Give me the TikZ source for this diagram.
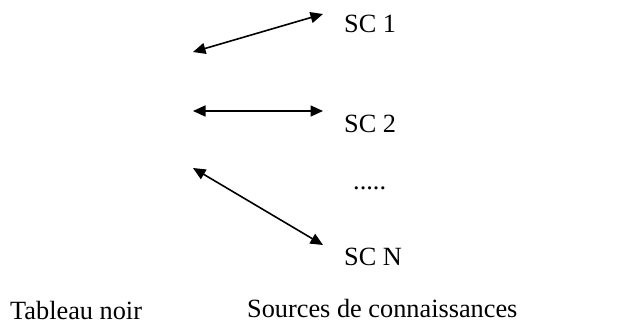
\documentclass[tikz,border=0pt]{standalone}
\usepackage{fontspec}
\setmainfont{Liberation Serif}
\usetikzlibrary{arrows.meta}
\begin{document}
\begin{tikzpicture}[x=1pt,y=-1pt,
  lbl/.style={inner sep=0pt,anchor=base west,font=\fontsize{26.3}{30}\selectfont},
  link/.style={line width=1.6pt,
    {Triangle[length=12.5pt,width=11pt]}-{Triangle[length=12.5pt,width=11pt]}}]
  \useasboundingbox (0,0) rectangle (617,324);
  % knowledge sources
  \node[lbl] (sc1) at (344,32) {SC 1};
  \node[lbl] (sc2) at (344,132) {SC 2};
  \node[lbl] (dots) at (353,189) {.....};
  \node[lbl] (scn) at (344,265) {SC N};
  % captions
  \node[lbl] (board) at (10,319) {Tableau noir};
  \node[lbl] (sources) at (247,317.5) {Sources de connaissances};
  % link end points
  \coordinate (b1) at (193,52);
  \coordinate (s1) at (323,14);
  \coordinate (b2) at (193,111);
  \coordinate (s2) at (323,111);
  \coordinate (b3) at (193,168);
  \coordinate (s3) at (323,245);
  \draw[link] (b1) -- (s1);
  \draw[link] (b2) -- (s2);
  \draw[link] (b3) -- (s3);
\end{tikzpicture}
\end{document}
